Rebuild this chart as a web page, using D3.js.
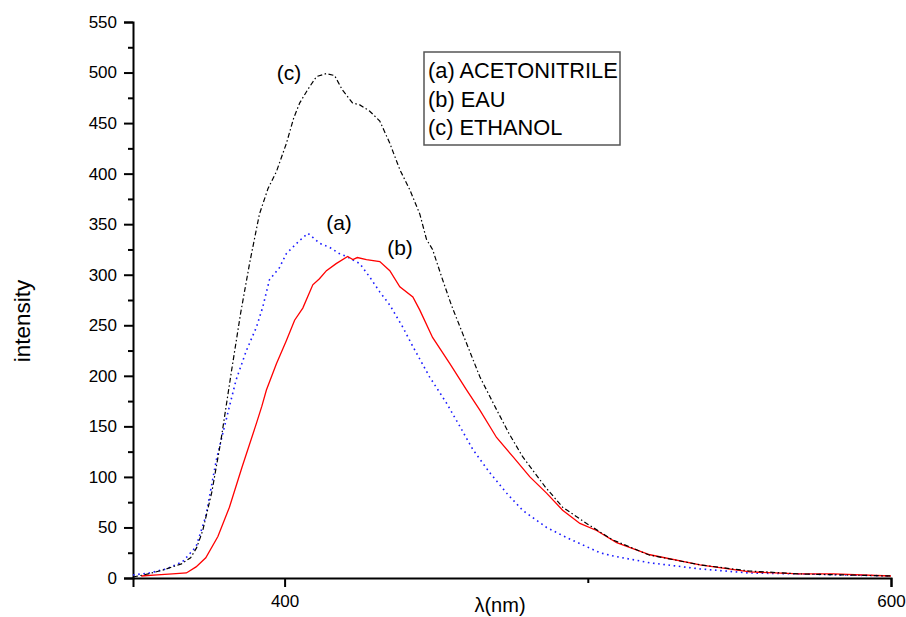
<!DOCTYPE html>
<html>
<head>
<meta charset="utf-8">
<script src="https://cdn.jsdelivr.net/npm/d3@7"></script>
<style>
  body { margin: 0; background: #fff; }
  text { font-family: "Liberation Sans", Arial, sans-serif; fill: #000; }
</style>
</head>
<body>
<svg id="visualization" width="906" height="617"></svg>
<script>
// (a) ACETONITRILE - blue dotted
const acetoWl = [350, 355.5, 361, 366.3, 370.8, 374, 377.5, 381.5, 384, 387.4, 390.7, 392.8, 395, 398.3, 400.6, 405, 407.7, 411.6, 414.9, 418, 420.4, 424.8, 428, 431.4, 434.7, 439, 442.3, 447.8, 453.4, 457.8, 462.1, 467.7, 473.2, 478.5, 486.4, 493, 499.6, 504, 508, 520.5, 537, 553, 570, 585, 600];
const acetoI  = [3, 5, 9, 16, 31, 61, 117, 166, 196, 225, 248, 268, 295, 307, 321, 334, 341, 331, 327, 321, 318, 311, 298, 283, 270, 248, 229, 199, 173, 150, 127, 104, 84, 67, 50, 40, 31, 25, 22, 15, 9, 5, 4, 3, 2];

// (b) EAU - red solid
const eauWl = [352.7, 358, 363, 367.6, 370.8, 374, 378, 381.8, 386, 390.7, 392.5, 394, 397.3, 400.6, 403.3, 406, 409.3, 411.5, 413.8, 417, 420.8, 422.5, 424, 427, 431.4, 434.7, 438, 442.3, 444.6, 448.8, 454.5, 460, 464.4, 469.9, 475.3, 480.9, 486.4, 491.7, 497.4, 502.9, 509.5, 520.5, 537, 553.5, 570, 581, 600];
const eauI  = [2, 3, 4, 5, 11, 20, 41, 70, 110, 153, 170, 186, 212, 235, 255, 267, 290, 296, 304, 311, 318, 315, 317, 315, 313, 304, 288, 278, 265, 238, 212, 186, 166, 139, 120, 100, 84, 67, 54, 47, 35, 23, 13, 6, 4, 4, 2];

// (c) ETHANOL - black dash-dot
const ethWl = [350, 355, 360, 366, 369, 371, 373, 376, 379, 382.5, 385.5, 388.5, 391.7, 394.5, 397.3, 400.6, 403, 405, 407.6, 410.5, 413.8, 416.5, 419, 422.4, 424.8, 428, 431.4, 434.7, 438, 441.3, 444.6, 446.8, 448.8, 452, 455, 458.7, 464.4, 470, 474, 478.5, 486, 491.7, 499.6, 508, 520, 537, 553, 570, 585, 600];
const ethI  = [1, 4, 8, 14, 20, 30, 47, 85, 136, 205, 262, 312, 360, 385, 402, 430, 455, 470, 483, 496, 499, 497, 483, 470, 468, 462, 452, 430, 404, 384, 360, 335, 325, 296, 270, 242, 199, 166, 143, 120, 90, 70, 54, 38, 23, 13, 7, 4, 3, 2];

const legendLabels = ["(a) ACETONITRILE", "(b) EAU", "(c) ETHANOL"];
const yTicks = d3.range(0, 551, 50);
const xTicks = [400, 600];

const svg = d3.select("#visualization");

const xScale = d3.scaleLinear().domain([350, 600]).range([133, 891]);
const yScale = d3.scaleLinear().domain([0, 550]).range([578, 22]);

// axes
const yAxis = d3.axisLeft(yScale).tickValues(yTicks).tickSize(9).tickPadding(7);
const yMinor = d3.axisLeft(yScale).tickValues(d3.range(25, 550, 50)).tickSize(5).tickFormat("");
const xAxis = d3.axisBottom(xScale).tickValues(xTicks).tickSize(9).tickPadding(8).tickFormat(d3.format("d"));
const xMinor = d3.axisBottom(xScale).tickValues([500]).tickSize(5).tickFormat("");

function styleAxis(g) {
    g.select(".domain").attr("stroke", "#000").attr("stroke-width", 2);
    g.selectAll(".tick line").attr("stroke", "#000").attr("stroke-width", 2);
    g.selectAll(".tick text").attr("font-size", 17).attr("font-family", "Liberation Sans, Arial, sans-serif");
}

svg.append("g").attr("transform", "translate(133,0)").call(yMinor).call(styleAxis)
    .select(".domain").remove();
svg.append("g").attr("transform", "translate(0,578)").call(xMinor).call(styleAxis)
    .select(".domain").remove();
svg.append("g").attr("transform", "translate(133,0)").call(yAxis).call(styleAxis);
svg.append("g").attr("transform", "translate(0,578)").call(xAxis).call(styleAxis);

// curves
const line = d3.line().x(d => xScale(d[0])).y(d => yScale(d[1]));

svg.append("path")
    .datum(acetoWl.map((w, i) => [w, acetoI[i]]))
    .attr("d", line)
    .attr("fill", "none")
    .attr("stroke", "#1a1aff")
    .attr("stroke-width", 1.6)
    .attr("stroke-dasharray", "1.6,3.6");

svg.append("path")
    .datum(eauWl.map((w, i) => [w, eauI[i]]))
    .attr("d", line)
    .attr("fill", "none")
    .attr("stroke", "#ff0000")
    .attr("stroke-width", 1.3);

svg.append("path")
    .datum(ethWl.map((w, i) => [w, ethI[i]]))
    .attr("d", line)
    .attr("fill", "none")
    .attr("stroke", "#000")
    .attr("stroke-width", 1.2)
    .attr("stroke-dasharray", "5,2.5,1.5,2.5");

// curve labels
svg.append("text").attr("x", 289).attr("y", 80).attr("text-anchor", "middle").attr("font-size", 21).text("(c)");
svg.append("text").attr("x", 339).attr("y", 230).attr("text-anchor", "middle").attr("font-size", 21).text("(a)");
svg.append("text").attr("x", 400).attr("y", 255).attr("text-anchor", "middle").attr("font-size", 21).text("(b)");

// legend
svg.append("rect")
    .attr("x", 424).attr("y", 52).attr("width", 196).attr("height", 93)
    .attr("fill", "none").attr("stroke", "#555").attr("stroke-width", 1.5);

svg.selectAll(".legend-text")
    .data(legendLabels)
    .enter()
    .append("text")
    .attr("class", "legend-text")
    .attr("x", 428)
    .attr("y", (d, i) => 78 + i * 28.5)
    .attr("font-size", 21.8)
    .text(d => d);

// axis titles
svg.append("text").attr("x", 500).attr("y", 612).attr("text-anchor", "middle").attr("font-size", 20).text("λ(nm)");
svg.append("text")
    .attr("transform", "translate(30,321) rotate(-90)")
    .attr("text-anchor", "middle")
    .attr("font-size", 22.5)
    .text("intensity");
</script>
</body>
</html>
